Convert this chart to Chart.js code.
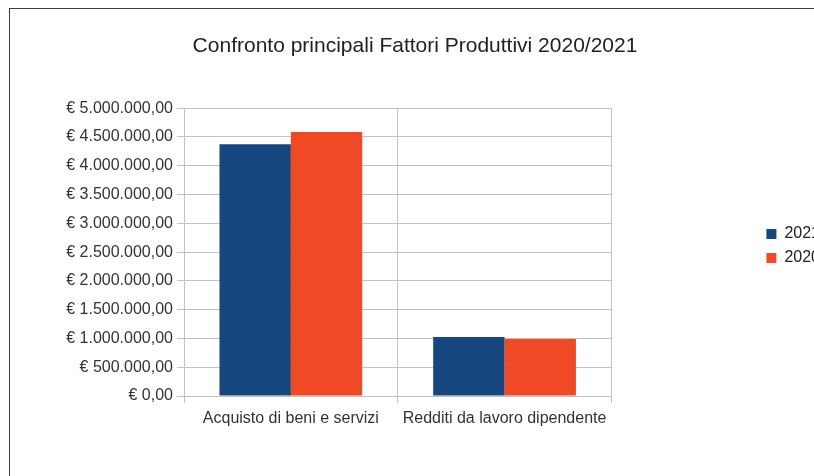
<!DOCTYPE html>
<html>
<head>
<meta charset="utf-8">
<script src="https://cdn.jsdelivr.net/npm/chart.js@4/dist/chart.umd.min.js"></script>
<style>
  html, body { margin: 0; padding: 0; background: #fff; overflow: hidden; }
  .frame { position: absolute; left: 9px; top: 8px; width: 900px; height: 600px; border: 1.5px solid #3c3c3c; }
  .chart-container { position: absolute; left: 0; top: 0; width: 830px; height: 476px; }
</style>
</head>
<body>
<div class="frame"></div>
<div class="chart-container">
  <canvas id="fattoriChart" width="830" height="476"></canvas>
</div>
<script type="text/javascript">
  var categories = ["Acquisto di beni e servizi", "Redditi da lavoro dipendente"];
  var values2021 = [4375000, 1025000];
  var values2020 = [4585000, 990000];
  var yTickStep = 500000;
  var yMax = 5000000;

  function euro(v) {
    var s = Math.round(v).toString().replace(/\B(?=(\d{3})+(?!\d))/g, ".");
    return "€ " + s + ",00";
  }

  Chart.defaults.font.family = "'Liberation Sans', Arial, sans-serif";
  Chart.defaults.color = "#333";

  var gridColor = "#c2c2c2";

  var chart = new Chart("fattoriChart", {
    type: "bar",
    data: {
      labels: categories,
      datasets: [
        {
          label: "2021",
          backgroundColor: "#17477f",
          data: values2021
        },
        {
          label: "2020",
          backgroundColor: "#f04926",
          data: values2020
        }
      ]
    },
    options: {
      responsive: false,
      animation: false,
      layout: { padding: { left: 0, right: 0, top: 16, bottom: 0 } },
      datasets: {
        bar: { categoryPercentage: 0.668, barPercentage: 1.0 }
      },
      plugins: {
        title: {
          display: true,
          text: "Confronto principali Fattori Produttivi 2020/2021",
          color: "#222",
          font: { size: 21, weight: "normal" },
          padding: { top: 18, bottom: 49 }
        },
        legend: {
          display: true,
          position: "right",
          labels: {
            boxWidth: 10,
            boxHeight: 10,
            padding: 8,
            color: "#222",
            font: { size: 16 }
          }
        },
        tooltip: { enabled: false }
      },
      scales: {
        x: {
          grid: { color: gridColor, tickLength: 7, offset: true },
          border: { color: gridColor },
          ticks: { font: { size: 16 }, color: "#333", padding: 6 },
          afterFit: function (scale) { scale.height = 80; }
        },
        y: {
          min: 0,
          max: yMax,
          grid: { color: gridColor, tickLength: 7 },
          border: { color: gridColor },
          ticks: {
            stepSize: yTickStep,
            font: { size: 16 },
            color: "#333",
            padding: 4,
            callback: function (value) { return euro(value); }
          },
          afterFit: function (scale) { scale.width = 184; }
        },
        spacer: {
          type: "linear",
          position: "right",
          display: true,
          grid: { display: false, drawTicks: false },
          border: { display: false },
          ticks: { display: false },
          afterFit: function (scale) { scale.width = 147; }
        }
      }
    }
  });
</script>
</body>
</html>
